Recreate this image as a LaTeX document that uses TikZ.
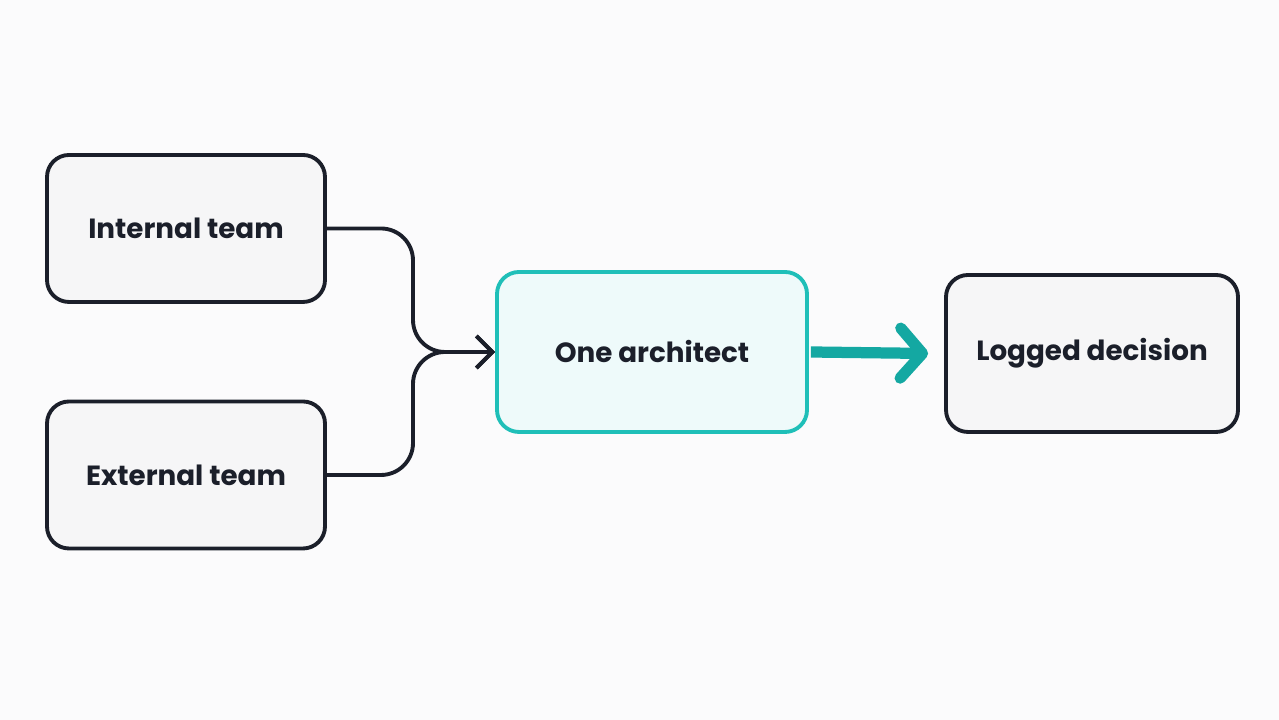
\documentclass[tikz,border=0pt]{standalone}
\usepackage{fontspec}
\setmainfont{Poppins}
\usetikzlibrary{positioning,arrows.meta}
\definecolor{bgcol}{HTML}{FBFBFC}
\definecolor{boxfill}{HTML}{F6F6F7}
\definecolor{inkcol}{HTML}{1B1F2A}
\definecolor{tealcol}{HTML}{1FBFB8}
\definecolor{tealarrow}{HTML}{14A8A2}
\definecolor{tealfill}{HTML}{EEFAFA}
\tikzset{
    box/.style={draw=inkcol,line width=1.1pt,fill=boxfill,rounded corners=0.22cm,
        minimum width=2.78cm,minimum height=1.47cm,inner sep=0pt,
        font=\fontsize{7.9}{10}\selectfont\bfseries,text=inkcol},
    link/.style={draw=inkcol,line width=1.1pt,rounded corners=0.32cm,
        -{Straight Barb[length=1.6mm,width=3.2mm]}}
}
\begin{document}
\begin{tikzpicture}
        % Background and page size
        \fill[bgcol] (0,0) rectangle (12.79,7.2);
        % Source teams
        \node[box] (internal) at (1.86,4.915) {Internal team};
        \node[box] (external) at (1.86,2.45) {External team};
        % Central decision maker
        \node[box,draw=tealcol,fill=tealfill,minimum width=3.1cm,minimum height=1.6cm] (architect) at (6.52,3.68) {One architect};
        % Result
        \node[box,minimum width=2.92cm,minimum height=1.57cm] (logged) at (10.92,3.665) {Logged decision};
        % Merging connectors
        \coordinate (merge) at (4.13,3.68);
        \draw[link] (internal.east) -| (merge) -- (architect.west);
        \draw[link] (external.east) -| (merge) -- (architect.west);
        % Output arrow
        \draw[draw=tealarrow,line width=3.2pt,-{Straight Barb[length=2.2mm,width=5mm,round]}] ([xshift=0.55pt]architect.east) -- ([xshift=-0.16cm]logged.west);
\end{tikzpicture}
\end{document}
